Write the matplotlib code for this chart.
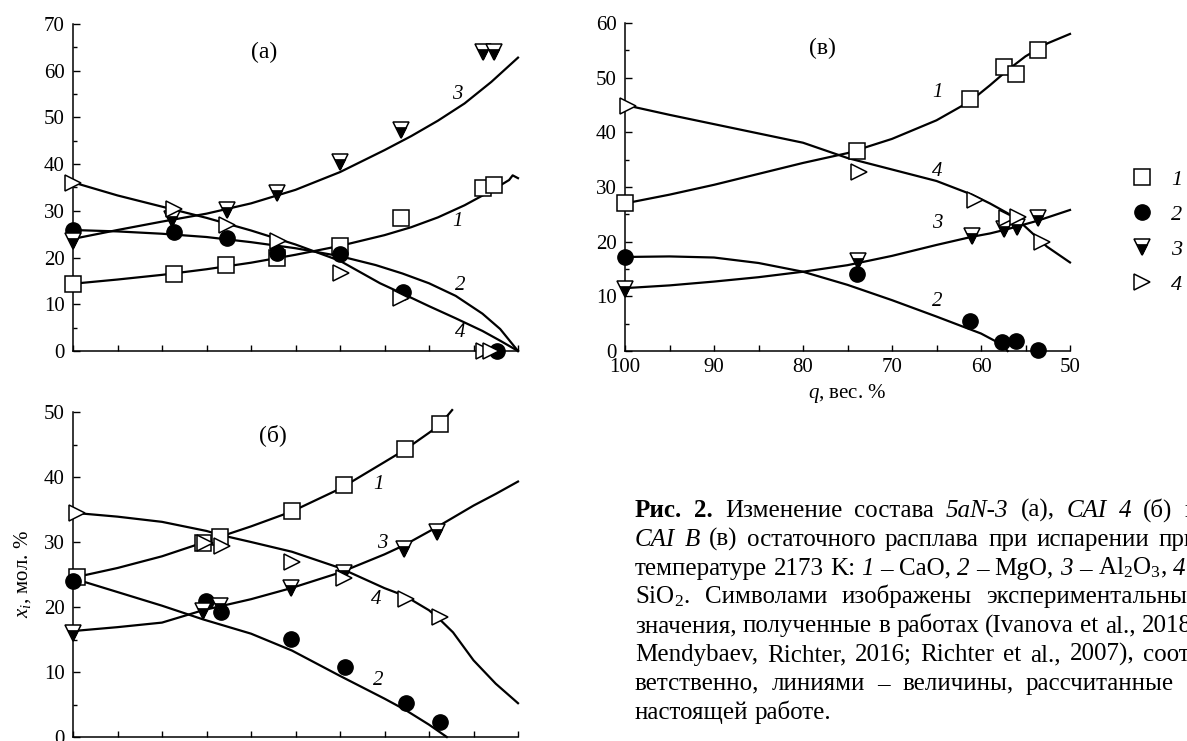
"""
Composition of the residual melt during evaporation, panels (а), (б), (в)
"""
import matplotlib
matplotlib.use("Agg")
import matplotlib.pyplot as plt
from matplotlib.lines import Line2D
from matplotlib.ticker import MultipleLocator

plt.rcParams['font.family'] = ['Liberation Serif', 'DejaVu Serif']
plt.rcParams['mathtext.fontset'] = 'custom'
plt.rcParams['mathtext.rm'] = 'Liberation Serif'
plt.rcParams['mathtext.it'] = 'Liberation Serif:italic'
plt.rcParams['mathtext.bf'] = 'Liberation Serif:bold'

# ---------------- panel (а) 5aN-3 ----------------
sq_a_x = [100, 88.7, 82.8, 77.1, 70.0, 63.2, 53.9, 52.7]
sq_a_y = [14.4, 16.4, 18.4, 20.0, 22.4, 28.4, 34.9, 35.6]
ci_a_x = [100, 88.6, 82.7, 77.1, 70.0, 62.9, 52.4]
ci_a_y = [25.9, 25.5, 24.1, 21.0, 20.7, 12.6, 0.0]
tr_a_x = [100, 88.9, 82.7, 77.1, 70.0, 63.2, 53.9, 52.7]
tr_a_y = [23.6, 28.3, 30.2, 33.9, 40.5, 47.4, 64.1, 63.9]
rt_a_x = [100, 88.7, 82.7, 77.0, 69.9, 63.2, 53.8, 53.0]
rt_a_y = [36.0, 30.5, 26.9, 23.5, 16.6, 11.4, 0.0, 0.0]

c1_a_x = [100, 95, 90, 85, 80, 75, 70, 65, 62, 59, 56, 53, 51, 50.6, 50]
c1_a_y = [14.4, 15.3, 16.3, 17.5, 18.9, 20.6, 22.5, 24.8, 26.5, 28.6, 31.2, 34.3, 36.6, 37.6, 37.0]
c2_a_x = [100, 95, 90, 85, 80, 75, 70, 66, 63, 60, 57, 54, 52, 50]
c2_a_y = [25.9, 25.6, 25.1, 24.4, 23.3, 22.0, 20.3, 18.4, 16.6, 14.5, 11.8, 8.0, 4.7, 0.0]
c3_a_x = [100, 95, 90, 85, 80, 75, 70, 65, 62, 59, 56, 53, 50]
c3_a_y = [24.0, 25.9, 27.7, 29.4, 31.6, 34.5, 38.3, 43.0, 46.0, 49.3, 53.0, 57.6, 62.8]
c4_a_x = [100, 95, 90, 85, 80, 75, 70, 65.5, 63, 60, 57, 54, 52, 50]
c4_a_y = [36.1, 33.3, 30.9, 28.5, 25.8, 22.8, 19.3, 14.5, 12.3, 9.6, 7.0, 4.3, 2.2, 0.0]

# ---------------- panel (б) CAI 4 ----------------
sq_b_x = [99.6, 85.4, 83.5, 75.4, 69.5, 62.7, 58.8]
sq_b_y = [24.6, 29.8, 30.8, 34.7, 38.7, 44.3, 48.1]
ci_b_x = [100, 85.1, 83.4, 75.5, 69.4, 62.6, 58.8]
ci_b_y = [24.0, 20.9, 19.3, 15.1, 10.7, 5.3, 2.3]
tr_b_x = [100, 85.4, 83.5, 75.5, 69.5, 62.8, 59.1]
tr_b_y = [16.0, 19.4, 20.2, 22.9, 25.2, 29.0, 31.6]
rt_b_x = [99.6, 85.2, 83.3, 75.4, 69.6, 62.6, 58.8]
rt_b_y = [34.5, 29.9, 29.4, 26.9, 24.5, 21.2, 18.4]

c1_b_x = [100, 95, 90, 85.4, 83.5, 80, 75.4, 70, 65, 62.7, 60, 58.8, 57.4]
c1_b_y = [24.5, 26.0, 27.8, 29.9, 30.8, 32.4, 34.7, 38.2, 42.3, 44.2, 46.8, 48.0, 50.3]
c2_b_x = [100, 95, 90, 85.4, 80, 75.4, 70, 65, 62.7, 60, 58]
c2_b_y = [24.4, 22.3, 20.2, 18.1, 15.9, 13.3, 9.4, 5.9, 4.2, 1.9, 0.0]
c3_b_x = [100, 95, 90, 85.4, 80, 75.5, 70, 65, 62.8, 59.1, 55, 52.5, 50]
c3_b_y = [16.3, 16.9, 17.6, 19.5, 21.2, 22.9, 25.3, 28.1, 29.5, 32.3, 35.6, 37.4, 39.3]
c4_b_x = [100, 95, 90, 85, 83.5, 80, 75.4, 70, 65, 62.7, 60, 58.8, 57.3, 55, 52.5, 50]
c4_b_y = [34.5, 33.9, 33.1, 31.7, 31.1, 30.0, 28.5, 26.0, 22.9, 21.7, 19.5, 18.1, 16.1, 11.8, 8.2, 5.2]

# ---------------- panel (в) CAI B ----------------
sq_c_x = [100, 73.9, 61.2, 57.4, 56.1, 53.6]
sq_c_y = [27.0, 36.5, 46.1, 52.0, 50.7, 55.1]
ci_c_x = [100, 73.9, 61.2, 57.6, 56.1, 53.6]
ci_c_y = [17.2, 14.0, 5.5, 1.7, 1.8, 0.2]
tr_c_x = [100, 73.8, 61.0, 57.4, 56.0, 53.6]
tr_c_y = [11.3, 16.4, 21.0, 22.4, 22.7, 24.4]
rt_c_x = [99.7, 73.7, 60.7, 57.1, 55.8, 53.2]
rt_c_y = [44.9, 32.8, 27.7, 24.3, 24.6, 20.0]

c1_c_x = [100, 95, 90, 85, 80, 75, 70, 65, 61.2, 59, 57, 55, 52.5, 50]
c1_c_y = [27.0, 28.6, 30.4, 32.4, 34.4, 36.2, 38.8, 42.2, 45.7, 48.6, 51.4, 53.9, 56.3, 58.0]
c2_c_x = [100, 95, 90, 85, 80, 75, 70, 65, 60, 57.8, 57]
c2_c_y = [17.2, 17.3, 17.1, 16.1, 14.5, 12.1, 9.3, 6.3, 3.2, 1.3, 0.0]
c3_c_x = [100, 95, 90, 85, 80, 75, 70, 65, 61, 59, 57, 53.7, 50]
c3_c_y = [11.5, 12.0, 12.7, 13.5, 14.5, 15.7, 17.4, 19.4, 20.9, 21.5, 22.3, 23.8, 25.8]
c4_c_x = [100, 95, 90, 85, 80, 75, 70, 65, 61, 59, 57, 55.2, 52.6, 50]
c4_c_y = [45.0, 43.2, 41.5, 39.8, 38.1, 35.3, 33.2, 31.1, 28.6, 27.0, 25.2, 23.0, 19.1, 16.2]

# caption, word by word: plain str = roman, (word, 'i') italic, (word, 'b') bold
caption = [
    [("Рис.", 'b'), ("2.", 'b'), "Изменение", "состава", ("5aN-3", 'i'), "(а),",
     ("CAI", 'i'), ("4", 'i'), "(б)", "и"],
    [("CAI", 'i'), ("B", 'i'), "(в)", "остаточного", "расплава", "при", "испарении", "при"],
    ["температуре", "2173", "K:", ("1", 'i'), "–", "CaO,", ("2", 'i'), "–", "MgO,",
     ("3", 'i'), "–", r"Al$_2$O$_3$,", ("4", 'i'), "–"],
    [r"SiO$_2$.", "Символами", "изображены", "экспериментальные"],
    ["значения,", "полученные", "в", "работах", "(Ivanova", "et", "al.,", "2018;"],
    ["Mendybaev,", "Richter,", "2016;", "Richter", "et", "al.,", "2007),", "соот-"],
    ["ветственно,", "линиями", "–", "величины,", "рассчитанные", "в"],
    ["настоящей", "работе."],
]

W, H = 1187, 741
fig = plt.figure(figsize=(W / 100, H / 100), dpi=100)

# lower part of the inverted triangle, filled black (upper band stays white)
half_v = [(-0.7, 0.4), (0.7, 0.4), (0.0, -1.0), (-0.7, 0.4)]
MS = 11


def add_axes_px(left, top, right, bottom):
    return fig.add_axes([left / W, 1 - bottom / H, (right - left) / W, (bottom - top) / H])


def style(ax, ymax, xlabels):
    ax.set_xlim(100, 50)
    ax.set_ylim(0, ymax)
    for s in ['top', 'right']:
        ax.spines[s].set_visible(False)
    for s in ['left', 'bottom']:
        ax.spines[s].set_linewidth(1.1)
    ax.xaxis.set_major_locator(MultipleLocator(10))
    ax.xaxis.set_minor_locator(MultipleLocator(5))
    ax.yaxis.set_major_locator(MultipleLocator(10))
    ax.yaxis.set_minor_locator(MultipleLocator(5))
    ax.tick_params(which='both', direction='in', width=1.0, labelsize=15)
    ax.tick_params(axis='x', which='both', length=4, pad=5)
    ax.tick_params(axis='y', which='major', length=5, pad=6)
    ax.tick_params(axis='y', which='minor', length=3)
    if not xlabels:
        ax.tick_params(axis='x', labelbottom=False)


def draw_panel(ax, curves, sq, ci, tr, rt):
    for cx, cy in curves:
        ax.plot(cx, cy, color='black', lw=1.6, clip_on=False, zorder=2)
    ax.plot(sq[0], sq[1], ls='none', marker='s', ms=MS + 1, mfc='white', mec='black',
            mew=1.1, clip_on=False, zorder=3)
    ax.plot(ci[0], ci[1], ls='none', marker='o', ms=MS, mfc='black', mec='black',
            clip_on=False, zorder=3)
    ax.plot(tr[0], tr[1], ls='none', marker='v', ms=MS, mfc='white', mec='black',
            mew=1.1, clip_on=False, zorder=3)
    ax.plot(tr[0], tr[1], ls='none', marker=half_v, ms=MS, mfc='black', mec='black',
            mew=0.5, clip_on=False, zorder=3)
    ax.plot(rt[0], rt[1], ls='none', marker='>', ms=MS, mfc='white', mec='black',
            mew=1.1, clip_on=False, zorder=3)


def labels(ax, items):
    for x, y, t in items:
        ax.text(x, y, t, fontsize=15, fontstyle='italic', ha='center', va='center')


ax_a = add_axes_px(73, 24, 518, 351)
ax_b = add_axes_px(73, 412, 518, 737)
ax_c = add_axes_px(625, 23, 1070, 351)

style(ax_a, 70, False)
style(ax_b, 50, False)
style(ax_c, 60, True)

draw_panel(ax_a, [(c1_a_x, c1_a_y), (c2_a_x, c2_a_y), (c3_a_x, c3_a_y), (c4_a_x, c4_a_y)],
           (sq_a_x, sq_a_y), (ci_a_x, ci_a_y), (tr_a_x, tr_a_y), (rt_a_x, rt_a_y))
draw_panel(ax_b, [(c1_b_x, c1_b_y), (c2_b_x, c2_b_y), (c3_b_x, c3_b_y), (c4_b_x, c4_b_y)],
           (sq_b_x, sq_b_y), (ci_b_x, ci_b_y), (tr_b_x, tr_b_y), (rt_b_x, rt_b_y))
draw_panel(ax_c, [(c1_c_x, c1_c_y), (c2_c_x, c2_c_y), (c3_c_x, c3_c_y), (c4_c_x, c4_c_y)],
           (sq_c_x, sq_c_y), (ci_c_x, ci_c_y), (tr_c_x, tr_c_y), (rt_c_x, rt_c_y))

ax_a.text(78.5, 64, "(а)", fontsize=17, ha='center', va='center')
ax_b.text(77.5, 46.5, "(б)", fontsize=17, ha='center', va='center')
ax_c.text(77.8, 55.3, "(в)", fontsize=17, ha='center', va='center')

labels(ax_a, [(56.8, 54.9, "3"), (56.8, 27.8, "1"), (56.5, 14.1, "2"), (56.5, 4.0, "4")])
labels(ax_b, [(65.7, 38.9, "1"), (65.3, 29.8, "3"), (65.9, 21.2, "4"), (65.7, 8.7, "2")])
labels(ax_c, [(64.9, 47.3, "1"), (64.9, 32.9, "4"), (64.9, 23.4, "3"), (64.9, 9.0, "2")])

ax_c.set_xlabel(r"$q$, вес. %", fontsize=15, labelpad=4)
ax_b.set_ylabel(r"$x_i$, мол. %", fontsize=15, labelpad=8)

# legend
h1 = Line2D([], [], ls='none', marker='s', ms=MS + 1, mfc='white', mec='black', mew=1.1)
h2 = Line2D([], [], ls='none', marker='o', ms=MS, mfc='black', mec='black')
h3a = Line2D([], [], ls='none', marker='v', ms=MS, mfc='white', mec='black', mew=1.1)
h3b = Line2D([], [], ls='none', marker=half_v, ms=MS, mfc='black', mec='black', mew=0.5)
h4 = Line2D([], [], ls='none', marker='>', ms=MS, mfc='white', mec='black', mew=1.1)
fig.legend([h1, h2, (h3a, h3b), h4], ["1", "2", "3", "4"], loc='upper left',
           bbox_to_anchor=(1131 / W, 1 - 169 / H), frameon=False, borderpad=0,
           borderaxespad=0, handlelength=1.0, handletextpad=0.8, labelspacing=0.65,
           prop={'size': 16, 'style': 'italic'})

# caption: justified block, right edge falls just outside the picture as in the original
renderer = fig.canvas.get_renderer()
CAP_FS = 18
STYLE_KW = {'n': {}, 'i': {'fontstyle': 'italic'}, 'b': {'fontweight': 'bold'}}


def word_width(s, st):
    t = fig.text(0, 0, s, fontsize=CAP_FS, **STYLE_KW[st])
    w = t.get_window_extent(renderer).width
    t.remove()
    return w


space_w = word_width("a a", 'n') - word_width("aa", 'n')
left_px, right_px, base_px, step_px = 635, 1198, 517, 28.8
for i, line in enumerate(caption):
    words = [(w, 'n') if isinstance(w, str) else w for w in line]
    widths = [word_width(w, st) for w, st in words]
    gap = space_w
    if i < len(caption) - 1:
        gap = max(space_w, (right_px - left_px - sum(widths)) / (len(words) - 1))
    x = left_px
    for (w, st), ww in zip(words, widths):
        fig.text(x / W, 1 - (base_px + step_px * i) / H, w, fontsize=CAP_FS,
                 va='baseline', **STYLE_KW[st])
        x += ww + gap

fig.savefig("out.png", dpi=100)
